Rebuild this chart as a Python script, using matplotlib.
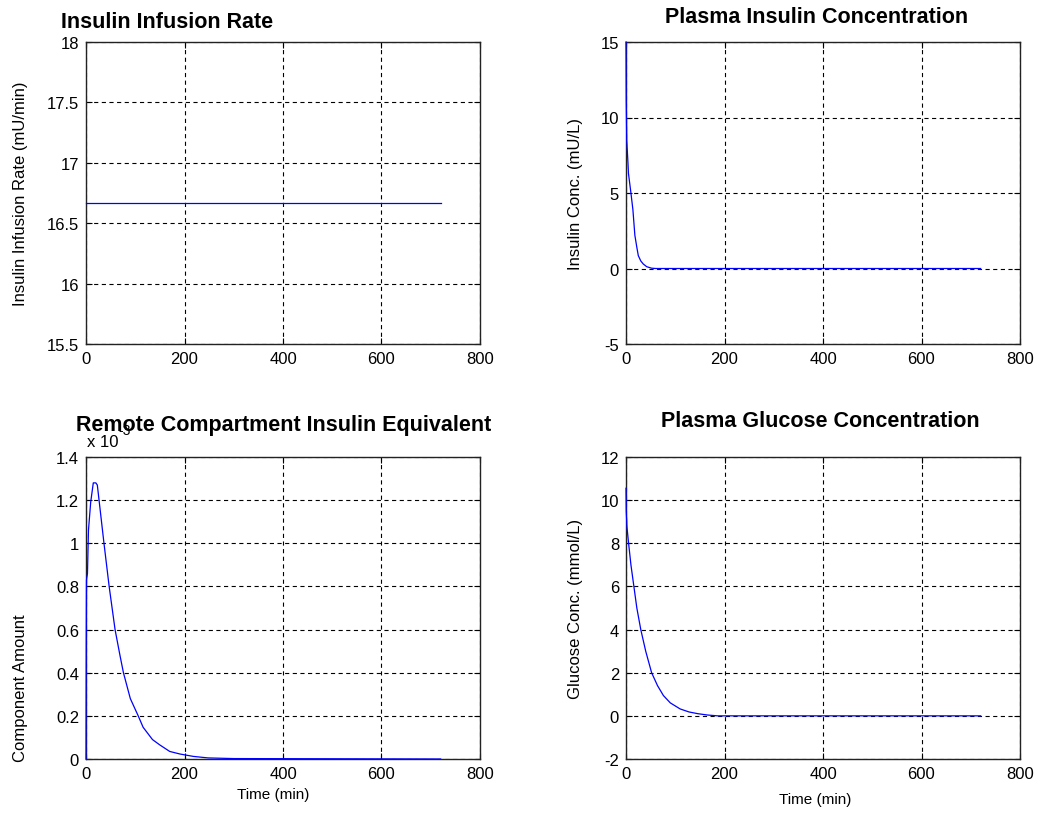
import numpy as np
import matplotlib
matplotlib.use("Agg")
import matplotlib.pyplot as plt
from matplotlib.ticker import FuncFormatter

plt.rcParams['font.family'] = ['Liberation Sans', 'DejaVu Sans']
plt.rcParams['lines.scale_dashes'] = False
plt.rcParams['axes.unicode_minus'] = False

# infusion rate (mU/min)
t_rate = [0, 720]
rate = [16.6667, 16.6667]

# plasma insulin (mU/L)
t_ins = [0, 0.5, 1.5, 4, 5, 10, 14, 18, 22, 25, 30, 35, 42, 52, 60, 720]
ins = [15.0, 11.1, 8.5, 7.0, 6.3, 5.0, 3.9, 2.2, 1.4, 0.85, 0.5, 0.3, 0.12, 0.02, 0.0, 0.0]

# remote compartment insulin equivalent (x 1e-3)
t_rem = [0, 0.5, 1, 3, 5, 9.5, 14.8, 20, 23, 30, 36.5, 47, 59, 69, 76, 90, 106,
         116, 135, 150, 170, 191, 218, 248, 300, 720]
rem = [0.0, 0.52, 0.83, 0.86, 1.06, 1.19, 1.28, 1.28, 1.27, 1.13, 1.0, 0.80, 0.60,
       0.48, 0.40, 0.28, 0.20, 0.147, 0.09, 0.065, 0.035, 0.023, 0.012, 0.005, 0.002, 0.0]
rem = np.array(rem) * 1e-3

# plasma glucose (mmol/L)
t_glu = [0, 0.5, 2, 5, 10, 16, 22, 30, 40, 52, 64, 76, 90, 110, 128, 146, 165, 186, 720]
glu = [10.55, 9.5, 8.74, 8.06, 7.0, 6.0, 5.0, 4.0, 3.0, 2.0, 1.4, 0.94, 0.6, 0.32,
       0.18, 0.1, 0.04, 0.0, 0.0]

W, H = 1040, 829
fig = plt.figure(figsize=(W / 100, H / 100), dpi=100)


def px_axes(x0, y_top, w, h):
    return fig.add_axes([x0 / W, 1 - (y_top + h) / H, w / W, h / H])


def style(ax, ylim, yticks):
    ax.set_xlim(0, 800)
    ax.set_xticks([0, 200, 400, 600, 800])
    ax.set_ylim(*ylim)
    ax.set_yticks(yticks)
    ax.grid(True, color='black', linestyle=(0, (3, 2.5)), linewidth=0.8)
    ax.tick_params(direction='in', top=True, right=True, length=4, width=0.8,
                   labelsize=12, pad=5)
    for s in ax.spines.values():
        s.set_linewidth(1.0)
        s.set_color('#222222')


def curve(ax, t, y):
    ax.plot(t, y, color='blue', linewidth=0.9, zorder=3, clip_on=False)


ax1 = px_axes(86, 43, 394, 302)
ax2 = px_axes(626, 43, 394, 302)
ax3 = px_axes(86, 458, 394, 302)
ax4 = px_axes(626, 458, 394, 302)

curve(ax1, t_rate, rate)
style(ax1, (15.5, 18), [15.5, 16, 16.5, 17, 17.5, 18])
ax1.yaxis.set_major_formatter(FuncFormatter(lambda v, p: f'{v:g}'))

curve(ax2, t_ins, ins)
style(ax2, (-5, 15), [-5, 0, 5, 10, 15])

curve(ax3, t_rem, rem)
style(ax3, (0, 1.4e-3), np.arange(0, 1.41, 0.2) * 1e-3)
ax3.yaxis.set_major_formatter(FuncFormatter(lambda v, p: f'{round(v * 1e3, 1):g}'))
ax3.text(0.003, 1.035, 'x 10', transform=ax3.transAxes, fontsize=12,
         ha='left', va='baseline')
ax3.text(0.083, 1.075, '-3', transform=ax3.transAxes, fontsize=10,
         ha='left', va='baseline')

curve(ax4, t_glu, glu)
style(ax4, (-2, 12), [-2, 0, 2, 4, 6, 8, 10, 12])

# titles
title_kw = dict(fontsize=15.5, fontweight='bold', ha='center', va='baseline')
fig.text(167 / W, 1 - 28 / H, 'Insulin Infusion Rate', **title_kw)
fig.text(817 / W, 1 - 23 / H, 'Plasma Insulin Concentration', **title_kw)
fig.text(284 / W, 1 - 431 / H, 'Remote Compartment Insulin Equivalent', **title_kw)
fig.text(820 / W, 1 - 427 / H, 'Plasma Glucose Concentration', **title_kw)

# axis labels
lab_kw = dict(fontsize=12, rotation=90, ha='center', va='center')
ax1.text(-0.1675, 0.5, 'Insulin Infusion Rate (mU/min)', transform=ax1.transAxes, **lab_kw)
ax2.text(-0.129, 0.5, 'Insulin Conc. (mU/L)', transform=ax2.transAxes, **lab_kw)
ax3.text(-0.1675, -0.007, 'Component Amount', transform=ax3.transAxes,
         fontsize=12, rotation=90, ha='center', va='bottom')
ax4.text(-0.129, 0.5, 'Glucose Conc. (mmol/L)', transform=ax4.transAxes, **lab_kw)

ax3.text(0.475, -0.116, 'Time (min)', transform=ax3.transAxes, fontsize=11,
         ha='center', va='center')
ax4.text(0.48, -0.132, 'Time (min)', transform=ax4.transAxes, fontsize=11,
         ha='center', va='center')

fig.savefig('out.png', dpi=100)
